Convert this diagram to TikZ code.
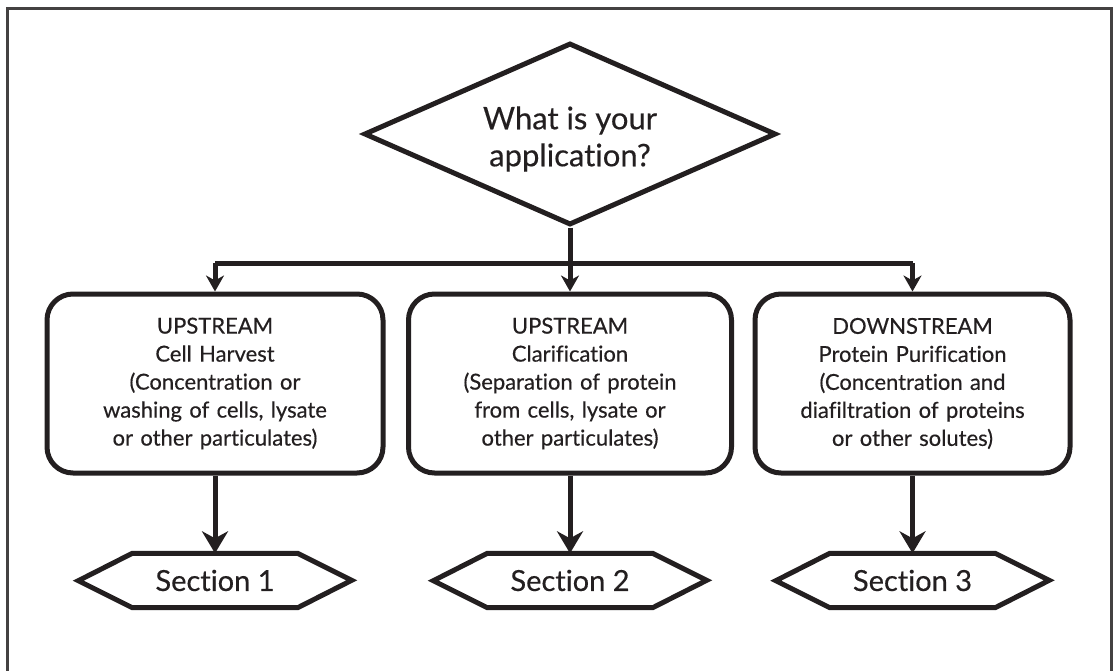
\documentclass[tikz,border=0pt]{standalone}
\usepackage{fontspec}
\setmainfont{Lato}[Ligatures=NoCommon]
\newfontfamily\labelfont{Lato}[Ligatures=NoCommon, FakeBold=0.4, UprightFeatures={FakeBold=0.4}]
\usetikzlibrary{shapes.geometric,arrows.meta}
\definecolor{ink}{HTML}{231F20}
\tikzset{
  lw/.style={line width=5pt, draw=ink},
  question/.style={diamond, lw, aspect=2.26, minimum width=412pt, minimum height=182pt, inner sep=0pt},
  qtext/.style={inner sep=0pt, align=center, text=ink, font=\labelfont\fontsize{31}{37}\selectfont},
  stagebox/.style={rectangle, rounded corners=26pt, lw, minimum height=179pt, inner sep=0pt, align=center, text=ink, font=\labelfont\fontsize{22}{28}\selectfont},
  hexcore/.style={rectangle, minimum width=165pt, minimum height=54pt, inner sep=0pt, text=ink, font=\labelfont\fontsize{29}{32}\selectfont},
  smallarrow/.style={lw, -{Stealth[length=16pt,width=18pt,inset=5pt]}},
  bigarrow/.style={lw, -{Stealth[length=22pt,width=26pt,inset=7pt]}},
  frameline/.style={line width=3pt, draw=ink!85}
}
\begin{document}
\begin{tikzpicture}[x=1pt,y=-1pt]
\useasboundingbox (0,0) rectangle (1116,670);
\draw[frameline] (7,690) -- (7,8) -- (1111,8) -- (1111,690);

\node[question] (q) at (570,134) {};
\node[qtext] (qt) at ([yshift=-5pt]q.center) {What is your\\application?};

\node[stagebox, minimum width=336pt, text width=320pt] (b1) at (215,383.5)
  {UPSTREAM\\Cell Harvest\\(Concentration or\\washing of cells, lysate\\or other particulates)};
\node[stagebox, minimum width=323pt, text width=310pt] (b2) at (570,383.5)
  {UPSTREAM\\Clarification\\(Separation of protein\\from cells, lysate or\\other particulates)};
\node[stagebox, minimum width=315pt, text width=300pt] (b3) at (912.5,383.5)
  {DOWNSTREAM\\Protein Purification\\(Concentration and\\diafiltration of proteins\\or other solutes)};

\node[hexcore] (s1) at (215,580.5) {Section 1};
\node[hexcore] (s2) at (570,580.5) {Section 2};
\node[hexcore] (s3) at (912.5,580.5) {Section 3};
\foreach \s in {s1,s2,s3}{
  \draw[lw, line join=miter] (\s.north west) -- (\s.north east) -- ++(54,27) -- (\s.south east)
    -- (\s.south west) -- ++(-54,-27) -- cycle;
}

\coordinate (j) at (570,263);
\draw[lw] (q.south) -- (j);
\draw[lw] (b1.north |- j) -- (b3.north |- j);
\draw[smallarrow] (b1.north |- j) -- (b1.north);
\draw[smallarrow] (j) -- (b2.north);
\draw[smallarrow] (b3.north |- j) -- (b3.north);

\draw[bigarrow] (b1.south) -- (s1.north);
\draw[bigarrow] (b2.south) -- (s2.north);
\draw[bigarrow] (b3.south) -- (s3.north);
\end{tikzpicture}
\end{document}
